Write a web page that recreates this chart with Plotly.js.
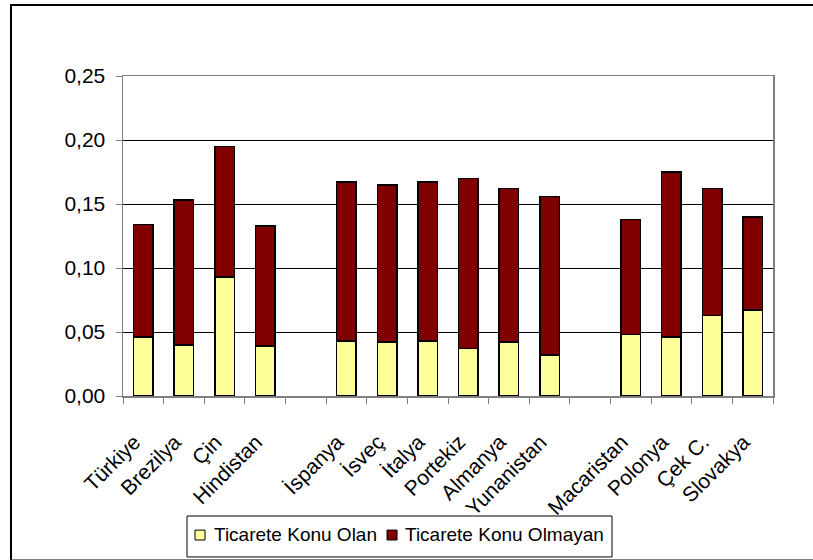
<!DOCTYPE html>
<html>
<head>
<meta charset="utf-8">
<script src="https://cdn.plot.ly/plotly-3.0.1.min.js"></script>
<style>
html,body{margin:0;padding:0;background:#fff;}
#wrap{position:relative;width:813px;height:560px;}
#chart{width:813px;height:560px;}
#frame{position:absolute;left:10px;top:4px;width:820px;height:553px;border-left:2px solid #000;border-top:2px solid #000;border-bottom:2px solid #808080;pointer-events:none;}
</style>
</head>
<body>
<div id="wrap">
<div id="chart"></div>
<div id="frame"></div>
</div>
<script>
var categories = ["Türkiye","Brezilya","Çin","Hindistan"," ","İspanya","İsveç","İtalya","Portekiz","Almanya","Yunanistan","  ","Macaristan","Polonya","Çek C.","Slovakya"];
var ticaretOlan = [0.046,0.040,0.093,0.039,null,0.043,0.042,0.043,0.037,0.042,0.032,null,0.048,0.046,0.063,0.067];
var ticaretOlmayan = [0.088,0.113,0.102,0.094,null,0.124,0.123,0.124,0.133,0.120,0.124,null,0.090,0.129,0.099,0.073];
var seriesNames = ["Ticarete Konu Olan","Ticarete Konu Olmayan"];
var seriesColors = ["#FFFF99","#800000"];
var yTickVals = [0,0.05,0.10,0.15,0.20,0.25];
var yTickText = ["0,00","0,05","0,10","0,15","0,20","0,25"];

var fam = "Liberation Sans, Arial, sans-serif";
var font = {family:fam, size:19, color:"#000"};

var traces = [
  {type:"bar", name:seriesNames[0], x:categories, y:ticaretOlan,
   marker:{color:seriesColors[0], line:{color:"#000", width:1.5}}},
  {type:"bar", name:seriesNames[1], x:categories, y:ticaretOlmayan,
   marker:{color:seriesColors[1], line:{color:"#000", width:1.5}}}
];

// manual legend (layout positions in paper units)
var legSymX = [0.1108, 0.4062];
var legTextX = [0.1385, 0.4323];
var shapes = [{type:"rect", xref:"paper", yref:"paper", x0:0.0985, x1:0.7523, y0:-0.375, y1:-0.503,
               line:{color:"#000", width:1}, fillcolor:"#fff", layer:"above"}];
var annotations = [];
for (var i = 0; i < seriesNames.length; i++) {
  shapes.push({type:"rect", xref:"paper", yref:"paper", x0:legSymX[i], x1:legSymX[i]+0.0154,
               y0:-0.419, y1:-0.45, line:{color:"#000", width:1}, fillcolor:seriesColors[i], layer:"above"});
  annotations.push({xref:"paper", yref:"paper", x:legTextX[i], y:-0.434, xanchor:"left", yanchor:"middle",
                    text:seriesNames[i], showarrow:false, font:font, borderpad:0});
}

var layout = {
  width:813, height:560,
  margin:{l:123, r:40, t:76, b:164, pad:0},
  paper_bgcolor:"#fff", plot_bgcolor:"#fff",
  barmode:"stack", bargap:0.52,
  font:font,
  showlegend:false,
  shapes:shapes,
  annotations:annotations,
  xaxis:{type:"category", categoryorder:"array", categoryarray:categories,
         tickson:"boundaries", ticks:"outside", ticklen:6, tickcolor:"#808080",
         tickangle:-45, ticklabelstandoff:24, ticklabelshift:-9,
         showline:true, linecolor:"#808080", linewidth:1.5, mirror:true,
         showgrid:false, tickfont:{family:fam, size:21, color:"#000"}, automargin:false},
  yaxis:{range:[0,0.25], tickvals:yTickVals, ticktext:yTickText,
         ticks:"outside", ticklen:6, tickcolor:"#808080", ticklabelstandoff:6,
         showline:true, linecolor:"#808080", linewidth:1.5, mirror:true,
         showgrid:true, gridcolor:"#000", gridwidth:1, zeroline:false,
         tickfont:{family:fam, size:21, color:"#000"}, automargin:false}
};

Plotly.newPlot("chart", traces, layout, {staticPlot:true, displayModeBar:false});
</script>
</body>
</html>
